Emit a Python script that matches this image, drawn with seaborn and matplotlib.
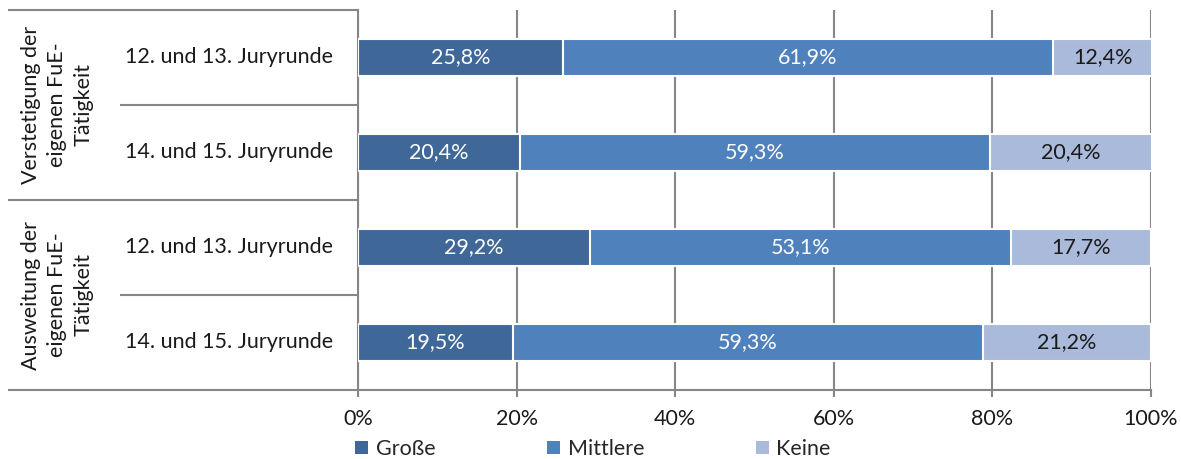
import matplotlib
matplotlib.use("Agg")
import matplotlib.pyplot as plt
from matplotlib.lines import Line2D
from matplotlib.patches import Patch
import seaborn as sns
import pandas as pd

groups = ["Verstetigung der\neigenen FuE-\nTätigkeit", "Ausweitung der\neigenen FuE-\nTätigkeit"]
rounds = ["12. und 13. Juryrunde", "14. und 15. Juryrunde", "12. und 13. Juryrunde", "14. und 15. Juryrunde"]
grosse = [25.8, 20.4, 29.2, 19.5]
mittlere = [61.9, 59.3, 53.1, 59.3]
keine = [12.4, 20.4, 17.7, 21.2]
series = ["Große", "Mittlere", "Keine"]
colors = ["#3F6899", "#4F81BD", "#AABADA"]
xticks = [0, 20, 40, 60, 80, 100]

sns.set_theme(style="white")
plt.rcParams['font.family'] = ['Lato', 'DejaVu Sans']
FS = 15.5

W, H = 1181, 459
fig = plt.figure(figsize=(W / 100, H / 100), dpi=100, frameon=True, facecolor="white", edgecolor="white")
ax = fig.add_axes([358 / W, 1 - 390 / H, (1151 - 358) / W, 380 / H])

rows = [f"r{i}" for i in range(len(rounds))]
df = pd.DataFrame({"row": rows, "Große": grosse, "Mittlere": mittlere, "Keine": keine})
df["c1"] = df["Große"]
df["c2"] = df["Große"] + df["Mittlere"]
df["c3"] = df["c2"] + df["Keine"]
for col, colr in zip(["c3", "c2", "c1"], colors[::-1]):
    sns.barplot(data=df, x=col, y="row", orient="h", color=colr, width=0.38,
                edgecolor="white", linewidth=1.5, saturation=1, ax=ax, zorder=3)

ax.set_xlim(0, 100)
ax.set_ylim(3.5, -0.5)
ax.set_xticks(xticks)
ax.set_xticklabels([f"{t}%" for t in xticks], fontsize=FS, color="#1a1a1a")
ax.set_yticks([])
ax.set_xlabel("")
ax.set_ylabel("")
ax.set_axisbelow(True)
ax.xaxis.grid(True, color="#868686", lw=1.5)
ax.tick_params(axis="x", bottom=True, length=5, width=1.5, color="#868686", pad=9)
for s in ["top", "right"]:
    ax.spines[s].set_visible(False)
for s in ["left", "bottom"]:
    ax.spines[s].set_color("#868686")
    ax.spines[s].set_linewidth(1.5)

# value labels
for i in range(len(rows)):
    lefts = [0, grosse[i], grosse[i] + mittlere[i]]
    vals = [grosse[i], mittlere[i], keine[i]]
    for j, (l, v) in enumerate(zip(lefts, vals)):
        ax.text(l + v / 2, i, f"{v:.1f}%".replace(".", ","), ha="center", va="center",
                fontsize=FS, color="white" if j < 2 else "#1a1a1a", zorder=5)

# left category table
def fx(px):
    return px / W

def fy(py):
    return 1 - py / H

for y, x0 in [(10, 8), (105, 120), (200, 8), (295, 120), (390, 8)]:
    fig.add_artist(Line2D([fx(x0), fx(358)], [fy(y), fy(y)], color="#868686", lw=1.5,
                          solid_capstyle="butt"))

for i, r in enumerate(rounds):
    fig.text(fx(229), fy(57 + 95 * i), r, ha="center", va="center", fontsize=FS, color="#1a1a1a")
for g, lab in enumerate(groups):
    fig.text(fx(57), fy(105 + 190 * g), lab, ha="center", va="center", rotation=90,
             fontsize=FS, color="#1a1a1a", linespacing=1.4, multialignment="center")

handles = [Patch(facecolor=c, edgecolor="none") for c in colors]
fig.legend(handles, series, loc="center", bbox_to_anchor=(fx(593), fy(449)), ncol=3,
           frameon=False, fontsize=FS, handlelength=0.6, handleheight=0.6,
           handletextpad=0.35, columnspacing=5.2)

fig.savefig("out.png", dpi=100, facecolor="white", edgecolor="white")
